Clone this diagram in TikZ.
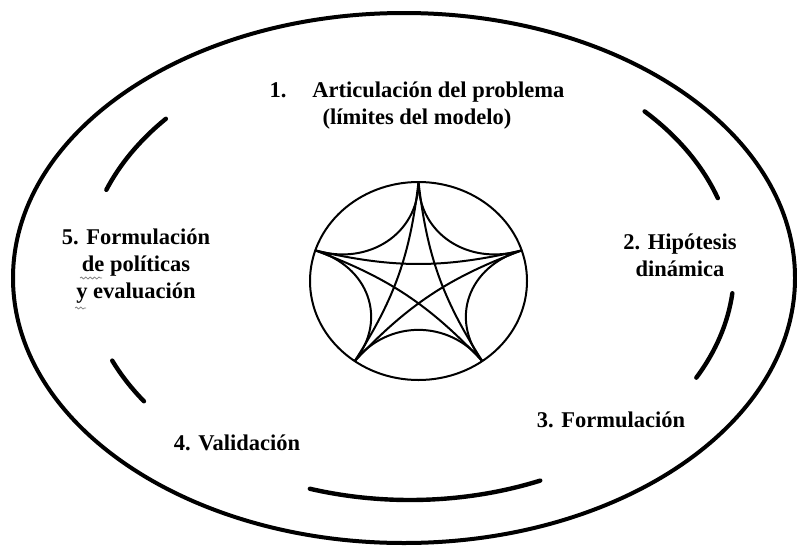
\documentclass[tikz,border=0pt]{standalone}
\usepackage{fontspec}
\setmainfont{Liberation Serif}
\usetikzlibrary{calc,decorations.pathmorphing}

\tikzset{
  stage/.style={font=\bfseries\fontsize{11.25}{13.5}\selectfont, align=center, inner sep=0pt},
  loop arc/.style={line width=2.2pt, line cap=round},
  star line/.style={line width=1pt},
  squiggle/.style={gray, line width=0.4pt, decorate,
    decoration={snake, amplitude=0.5pt, segment length=2.2pt}},
}

\begin{document}
\begin{tikzpicture}[x=0.5pt, y=-0.5pt, line join=round]
  \useasboundingbox (0,0) rectangle (797,546);

  % outer boundary
  \draw[line width=2pt] (404,278) ellipse [x radius=195.5pt, y radius=132.5pt];

  % broken inner loop
  \coordinate (hub) at (410,270);
  \foreach \a/\b in {138.9/159.6, 18.2/43.6, -27.9/-5.8, -108/-66.3, -156.8/-145.2}
    \draw[loop arc] (hub) ++(\a:162pt and 115pt)
      arc [start angle=\a, end angle=\b, x radius=162pt, y radius=115pt];

  % emblem in the middle
  \coordinate (eye) at (418.5,281);
  \draw[star line] (eye) ellipse [x radius=54.25pt, y radius=49.5pt];
  \coordinate (p1) at (418.5,182);
  \coordinate (p2) at (315.3,250.4);
  \coordinate (p3) at (354.7,361.1);
  \coordinate (p4) at (482.3,361.1);
  \coordinate (p5) at (521.7,250.4);
  \draw[star line] (p1) to[bend left=13] (p3) to[bend left=13] (p5)
    to[bend left=13] (p2) to[bend left=13] (p4) to[bend left=13] (p1);
  \foreach \i/\j in {p1/p2, p2/p3, p3/p4, p4/p5, p5/p1}
    \draw[star line] (\i) .. controls ($(\i)!.52!(eye)$) and ($(\j)!.52!(eye)$) .. (\j);

  % stages
  \node[stage] (articulacion) at (417,106)
    {1.\hspace{1.15em}Articulación del problema\\(límites del modelo)};
  \node[stage] (hipotesis) at (680,255) {2. Hipótesis\\dinámica};
  \node[stage, anchor=base] (formulacion) at (611,427) {3. Formulación};
  \node[stage, anchor=base] (validacion) at (237,450) {4. Validación};
  \node[stage] (politicas) at (136,266)
    {5. Formulación\\de políticas\\y evaluación};

  % spelling marks under "de" and "y"
  \draw[squiggle] (80,278) -- (102,278);
  \draw[squiggle] (75,308) -- (86,308);
\end{tikzpicture}
\end{document}
